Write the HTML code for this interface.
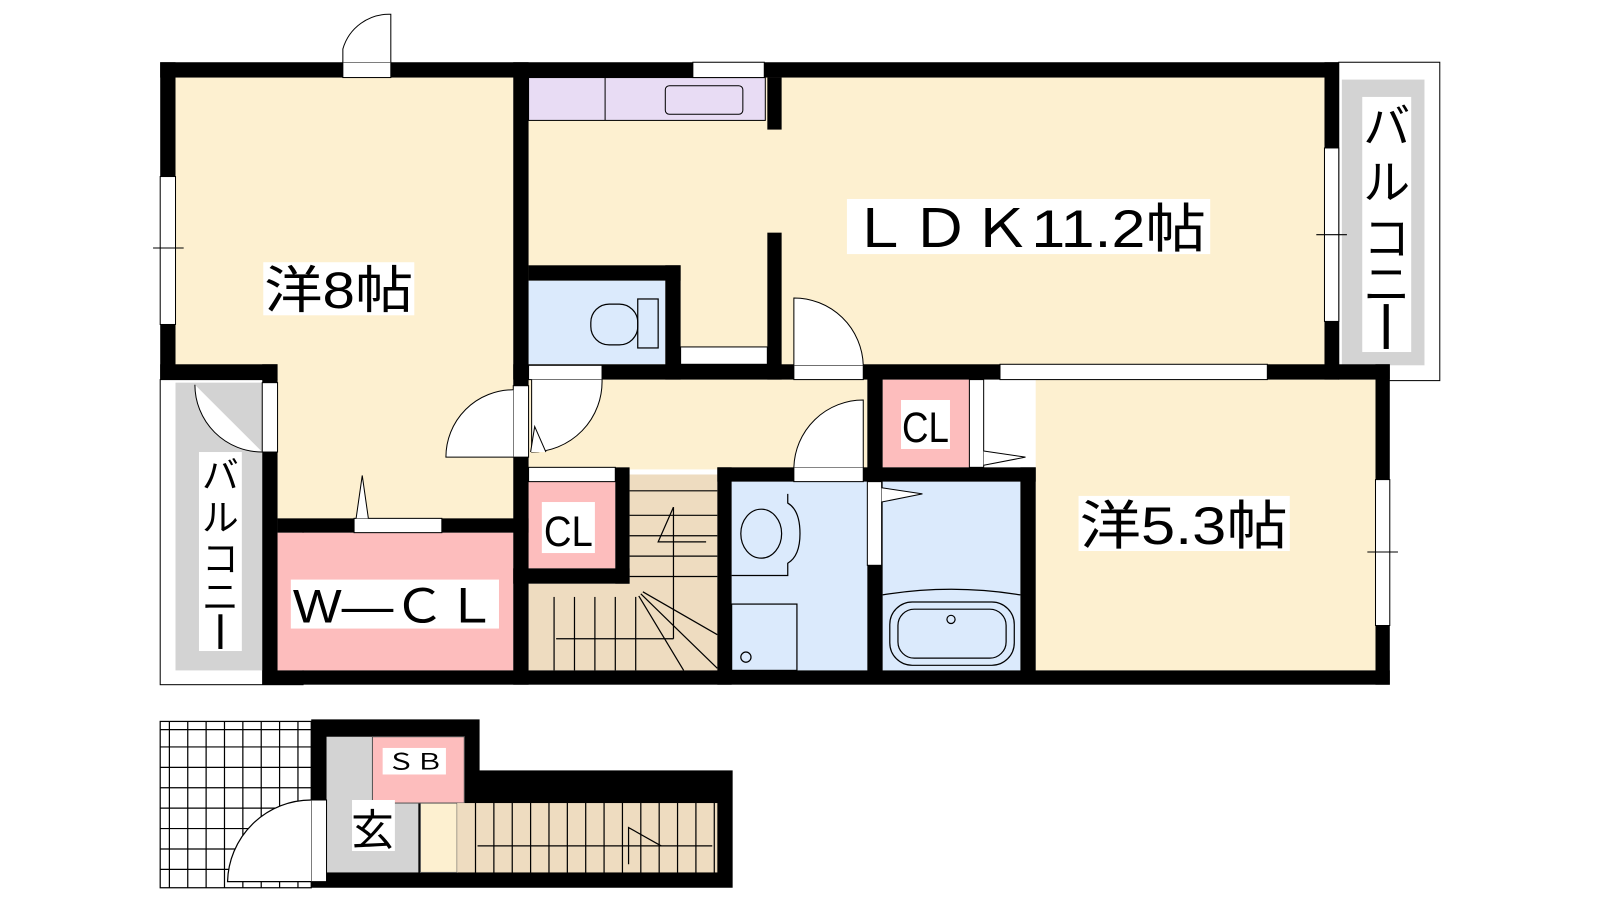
<!DOCTYPE html>
<html><head><meta charset="utf-8"><style>
html,body{margin:0;padding:0;background:#fff;}
svg text{font-family:"Liberation Sans","Noto Sans CJK JP",sans-serif;}
</style></head><body>
<svg width="1600" height="900" viewBox="0 0 1600 900" xmlns="http://www.w3.org/2000/svg">
<rect width="1600" height="900" fill="#fff"/>
<g transform="scale(1.0204)">
<rect x="1312" y="61" width="99" height="312" fill="#fff" stroke="#000" stroke-width="1"/>
<rect x="1315" y="78" width="81" height="280" fill="#d3d3d3"/>
<rect x="157" y="372" width="140" height="299" fill="#fff" stroke="#000" stroke-width="1"/>
<rect x="172" y="375" width="85" height="282" fill="#d3d3d3"/>
<rect x="172" y="76" width="331" height="282" fill="#fdf0d0"/>
<rect x="272" y="350" width="231" height="160" fill="#fdf0d0"/>
<rect x="518" y="76" width="780" height="282" fill="#fdf0d0"/>
<rect x="518" y="76" width="232" height="42" fill="#e8dcf4" stroke="#000" stroke-width="1"/>
<line x1="593" y1="76" x2="593" y2="118" stroke="#000"/>
<rect x="652" y="84" width="76" height="28" rx="4" fill="#e8dcf4" stroke="#000"/>
<rect x="518" y="372" width="332" height="88" fill="#fdf0d0"/>
<rect x="1015" y="372" width="333" height="285" fill="#fdf0d0"/>
<rect x="272" y="522" width="231" height="135" fill="#fdbdbd"/>
<rect x="518" y="275" width="134" height="82" fill="#dbeafc"/>
<rect x="518" y="472" width="85" height="85" fill="#fdbdbd"/>
<rect x="865" y="372" width="85" height="86" fill="#fdbdbd"/>
<rect x="617" y="465" width="86" height="192" fill="#eedcc0"/>
<rect x="518" y="572" width="185" height="85" fill="#eedcc0"/>
<rect x="717" y="472" width="133" height="185" fill="#dbeafc"/>
<rect x="865" y="472" width="135" height="185" fill="#dbeafc"/>
<g stroke="#000" stroke-width="1.2" fill="none">
<line x1="617" y1="481" x2="703" y2="481"/><line x1="617" y1="505" x2="703" y2="505"/>
<line x1="617" y1="525" x2="703" y2="525"/><line x1="617" y1="545" x2="703" y2="545"/>
<line x1="617" y1="565" x2="703" y2="565"/>
<line x1="660" y1="497" x2="660" y2="626"/><line x1="545" y1="626" x2="660" y2="626"/>
<polyline points="660,497 645,531 692,531"/>
<line x1="543" y1="585" x2="543" y2="657"/><line x1="563" y1="585" x2="563" y2="657"/>
<line x1="583" y1="585" x2="583" y2="657"/><line x1="603" y1="585" x2="603" y2="657"/>
<line x1="623" y1="585" x2="623" y2="657"/>
<line x1="630" y1="580" x2="703" y2="622"/><line x1="628" y1="582" x2="703" y2="655"/>
<line x1="626" y1="584" x2="670" y2="657"/>
</g>
<g stroke="#000" stroke-width="1.2" fill="none">
<path d="M717,564 H772 V552 Q784,545 784,523 Q784,500 772,493 V484"/>
<ellipse cx="746" cy="523" rx="20" ry="24"/>
<rect x="717" y="592" width="64" height="65"/>
<circle cx="731" cy="644" r="5"/>
<path d="M865,583 Q932,572 1000,583"/>
<rect x="872" y="590" width="122" height="62" rx="22"/>
<rect x="880" y="597" width="106" height="48" rx="16"/>
<circle cx="932" cy="607" r="4"/>
<rect x="579" y="298" width="46" height="40" rx="18"/>
<rect x="625" y="293" width="20" height="48"/>
</g>
<g fill="#000">
<rect x="157" y="61" width="1155" height="15"/>
<rect x="157" y="61" width="15" height="311"/>
<rect x="157" y="357" width="115" height="15"/>
<rect x="257" y="357" width="15" height="314"/>
<rect x="503" y="61" width="15" height="610"/>
<rect x="1298" y="61" width="14" height="311"/>
<rect x="503" y="357" width="859" height="15"/>
<rect x="1348" y="357" width="14" height="314"/>
<rect x="257" y="657" width="1105" height="14"/>
<rect x="272" y="508" width="246" height="14"/>
<rect x="518" y="260" width="149" height="15"/>
<rect x="652" y="260" width="15" height="112"/>
<rect x="752" y="76" width="14" height="51"/>
<rect x="752" y="228" width="14" height="144"/>
<rect x="603" y="458" width="14" height="114"/>
<rect x="503" y="557" width="114" height="15"/>
<rect x="703" y="458" width="14" height="213"/>
<rect x="703" y="458" width="312" height="14"/>
<rect x="850" y="358" width="15" height="300"/>
<rect x="1000" y="458" width="15" height="200"/>
</g>
<g fill="#fff" stroke="#000" stroke-width="1">
<rect x="336" y="61" width="47" height="15"/>
<path d="M336,61 V48 A47,47 0 0 1 383,14 V61"/>
<rect x="157" y="173" width="15" height="145"/>
<line x1="150" y1="243" x2="180" y2="243"/>
<rect x="1298" y="145" width="14" height="170"/>
<line x1="1290" y1="230" x2="1320" y2="230"/>
<rect x="679" y="61" width="70" height="15"/>
<rect x="1348" y="470" width="14" height="143"/>
<line x1="1340" y1="541" x2="1370" y2="541"/>
<rect x="980" y="357" width="262" height="15"/>
<rect x="347" y="508" width="86" height="14"/>
<path d="M349,508 L355,466 L361,508"/>
<rect x="257" y="375" width="15" height="68"/>
<path d="M257,443 A66,66 0 0 1 191,377"/>
<rect x="503" y="378" width="15" height="70"/>
<path d="M503,448 H437 A66,66 0 0 1 503,382"/>
<rect x="518" y="358" width="72" height="14"/>
<path d="M521,372 V443 A69,69 0 0 0 590,372"/>
<path d="M520,443 L524,418 L535,443"/>
<rect x="667" y="340" width="85" height="17"/>
<rect x="778" y="358" width="68" height="14"/>
<path d="M778,358 V292 A68,68 0 0 1 846,358"/>
<rect x="518" y="458" width="85" height="14"/>
<rect x="778" y="458" width="68" height="14"/>
<path d="M778,458 A68,68 0 0 1 846,392 V458"/>
<rect x="950" y="372" width="14" height="86"/>
<path d="M964,442 L1005,448 L964,456"/>
<rect x="850" y="472" width="14" height="82"/>
<path d="M864,478 L904,484 L864,492"/>
</g>
<g stroke="#000" stroke-width="1.2">
<rect x="157" y="707" width="148" height="163" fill="#fff"/>
<path d="M166,707V870M184,707V870M202,707V870M220,707V870M238,707V870M256,707V870M274,707V870M292,707V870M157,715H305M157,732H305M157,752H305M157,772H305M157,792H305M157,812H305M157,832H305M157,852H305" fill="none"/>
</g>
<rect x="305" y="705" width="165" height="60" fill="#000"/>
<rect x="305" y="755" width="413" height="115" fill="#000"/>
<rect x="320" y="722" width="90" height="133" fill="#d3d3d3"/>
<rect x="365" y="722" width="90" height="65" fill="#fdbdbd" stroke="#555" stroke-width="1"/>
<rect x="412" y="787" width="36" height="68" fill="#fdf0d0" stroke="#555" stroke-width="1"/>
<rect x="448" y="787" width="255" height="68" fill="#eedcc0"/>
<g stroke="#000" stroke-width="1.2" fill="none">
<path d="M466,787V855M484,787V855M502,787V855M520,787V855M538,787V855M556,787V855M574,787V855M592,787V855M610,787V855M628,787V855M646,787V855M664,787V855M682,787V855M700,787V855"/>
<line x1="468" y1="829" x2="698" y2="829"/>
<polyline points="616,847 616,811 648,829"/>
</g>
<rect x="305" y="784" width="15" height="80" fill="#fff" stroke="#000"/>
<path d="M305,864 H223 A82,82 0 0 1 305,784" fill="#fff" stroke="#000" stroke-width="1.2"/>
<g fill="#fff">
<rect x="258" y="257" width="148" height="52"/>
<rect x="830" y="195" width="356" height="54"/>
<rect x="1057" y="486" width="207" height="54"/>
<rect x="285" y="568" width="204" height="48"/>
<rect x="531" y="492" width="52" height="50"/>
<rect x="883" y="392" width="48" height="48"/>
<rect x="1335" y="95" width="48" height="250"/>
<rect x="195" y="443" width="42" height="195"/>
<rect x="375" y="733" width="62" height="26"/>
<rect x="345" y="784" width="42" height="50"/>
</g>
<g fill="#000">
<text x="259" y="302" font-size="50" textLength="146" lengthAdjust="spacingAndGlyphs">洋8帖</text>
<text x="832" y="242" font-size="52" textLength="350" lengthAdjust="spacingAndGlyphs">ＬＤＫ11.2帖</text>
<text x="1058" y="533" font-size="52" textLength="204" lengthAdjust="spacingAndGlyphs">洋5.3帖</text>
<text x="287" y="610" font-size="46" textLength="200" lengthAdjust="spacingAndGlyphs">W—ＣＬ</text>
<text x="533" y="535" font-size="42" textLength="48" lengthAdjust="spacingAndGlyphs">CL</text>
<text x="884" y="433" font-size="42" textLength="46" lengthAdjust="spacingAndGlyphs">CL</text>
<text x="379" y="754" font-size="22" textLength="56" lengthAdjust="spacingAndGlyphs">ＳＢ</text>
<text x="344" y="828" font-size="42">玄</text>
<text x="1359" y="140" font-size="46" text-anchor="middle">バ</text>
<text x="1359" y="195" font-size="46" text-anchor="middle">ル</text>
<text x="1359" y="250" font-size="46" text-anchor="middle">コ</text>
<text x="1359" y="295" font-size="46" text-anchor="middle">ニ</text>
<rect x="1356" y="298" width="5" height="44"/>
<text x="216" y="478" font-size="36" text-anchor="middle">バ</text>
<text x="216" y="520" font-size="36" text-anchor="middle">ル</text>
<text x="216" y="560" font-size="36" text-anchor="middle">コ</text>
<text x="216" y="598" font-size="36" text-anchor="middle">ニ</text>
<rect x="214" y="602" width="4" height="34"/>
</g>
</g>
</svg>
</body></html>
